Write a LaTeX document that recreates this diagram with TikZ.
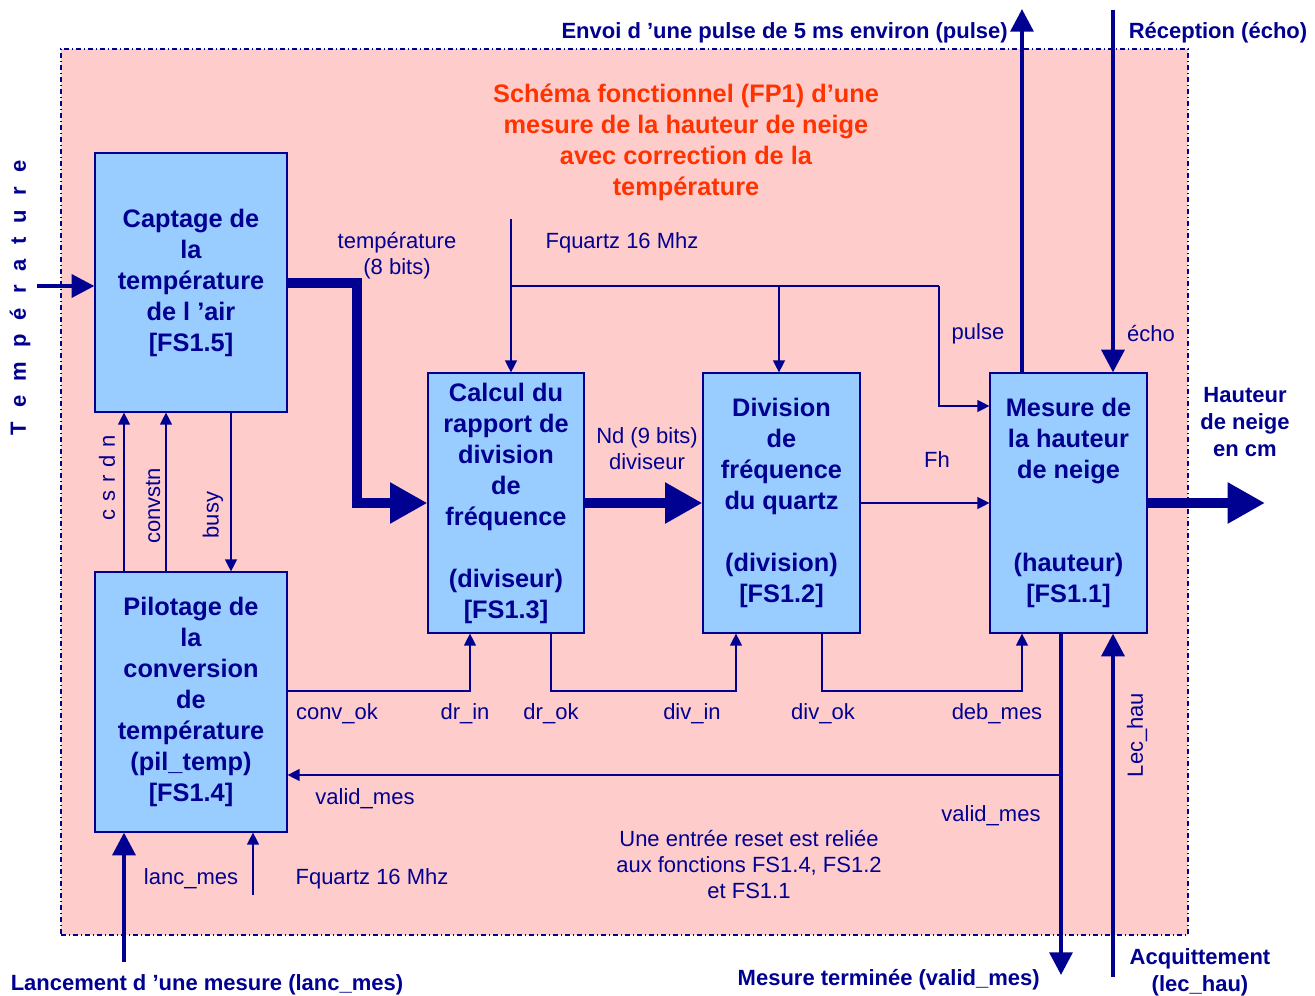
\documentclass[tikz,border=0pt]{standalone}
\usepackage{fontspec}
\setmainfont{Liberation Sans}
\usetikzlibrary{arrows.meta}
\definecolor{navy}{RGB}{0,0,145}
\definecolor{bgpink}{RGB}{255,204,204}
\definecolor{boxblue}{RGB}{153,204,255}
\definecolor{titleorange}{RGB}{255,51,0}
\begin{document}
\begin{tikzpicture}[x=0.75pt,y=-0.75pt,
  fbox/.style={draw=navy,fill=boxblue,line width=0.9pt,inner sep=0pt,align=center,
    text=navy,font=\fontsize{19}{23.25}\selectfont\bfseries,
    execute at begin node={\rule{0pt}{19pt}}},
  lbl/.style={text=navy,inner sep=0pt,align=center,font=\fontsize{16.5}{19.5}\selectfont},
  olbl/.style={text=navy,inner sep=0pt,align=center,font=\fontsize{16.5}{20}\selectfont\bfseries},
  thin/.style={draw=navy,line width=1pt},
  thinarr/.style={thin,-{Triangle[length=9pt,width=9pt]}},
  medarr/.style={draw=navy,line width=3.2pt,-{Triangle[length=17pt,width=17pt]}},
  bigarr/.style={draw=navy,line width=7.5pt,line join=miter,-{Triangle[length=28pt,width=29pt]}}
]
\useasboundingbox (0,0) rectangle (1315,996);
\fill[white] (0,0) rectangle (1315,996);
% frame
\node[draw=navy,fill=bgpink,line width=1.2pt,dash pattern=on 4pt off 2pt on 1pt off 2pt,
  minimum width=845.25pt,minimum height=664.5pt,inner sep=0pt] (frame) at (624.5,492) {};
% title
\node[inner sep=0pt,align=center,text=titleorange,font=\fontsize{19}{23.25}\selectfont\bfseries]
  (title) at (686,142) {Schéma fonctionnel (FP1) d’une\\mesure de la hauteur de neige\\avec correction de la\\température};
% boxes
\node[fbox,minimum width=144pt,minimum height=194.25pt] (cap) at (191,282.5)
  {Captage de\\la\\température\\de l ’air\\{}[FS1.5]};
\node[fbox,minimum width=144pt,minimum height=195pt] (pil) at (191,702)
  {Pilotage de\\la\\conversion\\de\\température\\(pil\_temp)\\{}[FS1.4]};
\node[fbox,minimum width=117pt,minimum height=195pt] (cal) at (506,503)
  {Calcul du\\rapport de\\division\\de\\fréquence\\~\\(diviseur)\\{}[FS1.3]};
\node[fbox,minimum width=117.75pt,minimum height=195pt] (div) at (781.5,503)
  {Division\\de\\fréquence\\du quartz\\~\\(division)\\{}[FS1.2]};
\node[fbox,minimum width=117.75pt,minimum height=195pt] (mes) at (1068.5,503)
  {Mesure de\\la hauteur\\de neige\\~\\~\\(hauteur)\\{}[FS1.1]};
% coordinates
\coordinate (tin) at (37,286);
\coordinate (bend1) at (357,282.5);
\coordinate (bend2) at (357,503);
\coordinate (hout) at (1265,503);
\coordinate (pulseTop) at (1022,9);
\coordinate (echoTop) at (1113,10);
\coordinate (vmBot) at (1061,975);
\coordinate (lhBot) at (1113,977);
\coordinate (lmBot) at (124,962);
\coordinate (fqBot) at (253,895);
\coordinate (fq) at (511,219);
\coordinate (fqj) at (511,286);
\coordinate (fqd) at (779,286);
\coordinate (fqp) at (939,286);
\coordinate (fqp2) at (939,406);
\coordinate (cok) at (470,691);
\coordinate (drok1) at (551,691);
\coordinate (drok2) at (736,691);
\coordinate (dvok1) at (822,691);
\coordinate (dvok2) at (1022,691);
\coordinate (vmfb) at (1061,775);
% thick arrows
\draw[medarr] (tin) -- (cap.west |- tin);
\draw[bigarr] (cap.east) -- (bend1) -- (bend2) -- (cal.west);
\draw[bigarr] (cal.east) -- (div.west);
\draw[bigarr] (mes.east) -- (hout);
\draw[medarr] (mes.north -| pulseTop) -- (pulseTop);
\draw[medarr] (echoTop) -- (echoTop |- mes.north);
\draw[medarr] (mes.south -| vmBot) -- (vmBot);
\draw[medarr] (lhBot) -- (lhBot |- mes.south);
\draw[medarr] (lmBot) -- (lmBot |- pil.south);
% thin arrows
\draw[thinarr] (fqBot) -- (fqBot |- pil.south);
\draw[thinarr] (pil.north -| 124,0) -- (cap.south -| 124,0);
\draw[thinarr] (pil.north -| 166,0) -- (cap.south -| 166,0);
\draw[thinarr] (cap.south -| 231,0) -- (pil.north -| 231,0);
\draw[thinarr] (fq) -- (fq |- cal.north);
\draw[thin] (fqj) -- (fqp);
\draw[thinarr] (fqd) -- (fqd |- div.north);
\draw[thinarr] (fqp) -- (fqp2) -- (mes.west |- fqp2);
\draw[thinarr] (div.east) -- (mes.west);
\draw[thinarr] (pil.east |- cok) -- (cok) -- (cok |- cal.south);
\draw[thinarr] (cal.south -| drok1) -- (drok1) -- (drok2) -- (drok2 |- div.south);
\draw[thinarr] (div.south -| dvok1) -- (dvok1) -- (dvok2) -- (dvok2 |- mes.south);
\draw[thinarr] (vmfb) -- (pil.east |- vmfb);
% labels
\node[lbl] (ltemp) at (397,256) {température\\(8 bits)};
\node[lbl] (lfq1) at (622,243) {Fquartz 16 Mhz};
\node[lbl] (lpulse) at (978,334) {pulse};
\node[lbl] (lecho) at (1151,334) {écho};
\node[lbl] (lnd) at (647,449) {Nd (9 bits)\\diviseur};
\node[lbl] (lfh) at (937,460) {Fh};
\node[lbl] (lconv) at (337,714) {conv\_ok};
\node[lbl] (ldrin) at (465,714) {dr\_in};
\node[lbl] (ldrok) at (551,714) {dr\_ok};
\node[lbl] (ldivin) at (692,714) {div\_in};
\node[lbl] (ldivok) at (823,714) {div\_ok};
\node[lbl] (ldeb) at (997,714) {deb\_mes};
\node[lbl] (lvm1) at (365,799) {valid\_mes};
\node[lbl] (lvm2) at (991,816) {valid\_mes};
\node[lbl] (lreset) at (749,864) {Une entrée reset est reliée\\aux fonctions FS1.4, FS1.2\\et FS1.1};
\node[lbl] (llanc) at (191,879) {lanc\_mes};
\node[lbl] (lfq2) at (372,879) {Fquartz 16 Mhz};
\node[lbl,rotate=90] (lcsrdn) at (107,478) {\spaceskip=6pt c s r d n};
\node[lbl,rotate=90] (lconvstn) at (153,506) {convstn};
\node[lbl,rotate=90] (lbusy) at (213,515) {busy};
\node[lbl,rotate=90] (llec) at (1137,735) {Lec\_hau};
% outside labels
\node[olbl,anchor=east] (oenvoi) at (1008,33) {Envoi d ’une pulse de 5 ms environ (pulse)};
\node[olbl] (orecep) at (1218,33) {Réception (écho)};
\node[olbl] (ohaut) at (1245,422) {Hauteur\\de neige\\en cm};
\node[olbl,anchor=east] (oterm) at (1040,980) {Mesure terminée (valid\_mes)};
\node[olbl] (oacq) at (1200,972) {Acquittement\\(lec\_hau)};
\node[olbl] (olanc) at (207,985) {Lancement d ’une mesure (lanc\_mes)};
\node[olbl,rotate=90] (otemp) at (20,298) {\spaceskip=10.6pt T e m p é r a t u r e};
\end{tikzpicture}
\end{document}
